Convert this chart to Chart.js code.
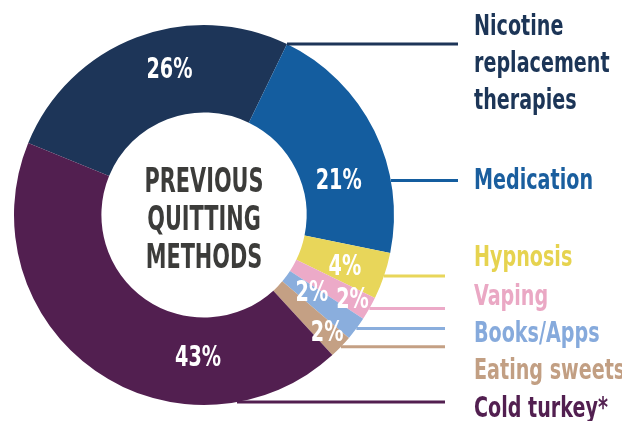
<!DOCTYPE html>
<html>
<head>
<meta charset="utf-8">
<script src="https://cdn.jsdelivr.net/npm/chart.js@4/dist/chart.umd.min.js"></script>
<style>
  html, body { margin: 0; padding: 0; background: #ffffff; }
  #wrap { width: 622px; height: 421px; position: relative; }
</style>
</head>
<body>
<div id="wrap"><canvas id="c" width="622" height="421"></canvas></div>
<script>
// ---- data ----
const categories = ['Nicotine replacement therapies', 'Medication', 'Hypnosis', 'Vaping', 'Books/Apps', 'Eating sweets', 'Cold turkey*'];
const values = [26, 21, 4, 2, 2, 2, 43];
const valueLabels = ['26%', '21%', '4%', '2%', '2%', '2%', '43%'];
const legendLines = [['Nicotine', 'replacement', 'therapies'], ['Medication'], ['Hypnosis'], ['Vaping'], ['Books/Apps'], ['Eating sweets'], ['Cold turkey*']];
const centerTitle = ['PREVIOUS', 'QUITTING', 'METHODS'];

// ---- styles / layout ----
const sliceColors = ['#1d3558', '#145d9f', '#e8d65a', '#ecaac8', '#8aaedd', '#c4a084', '#521f50'];
const textColors  = ['#1c3557', '#1a5e9e', '#e6d34f', '#eaa8c4', '#86aadc', '#c29f83', '#521f50'];
const FONT = '"Liberation Sans Narrow", "Arial Narrow", "DejaVu Sans Condensed", sans-serif';
// placement of the % label inside each slice: [fraction along arc, radius]
const labelPlace = [[0.58, 149], [0.66, 139], [0.6, 150], [0.53, 171], [0.375, 133], [0.46, 170], [0.29, 143]];
// where each connector leaves the ring (fraction along the arc)
const anchorFrac = [1.0, 0.71, 0.5, 0.5, 0.5, 0.5, 0.21];
const lineEndX = [458, 458, 445, 445, 445, 445, 445];
const legendX = 474;
const legendY = [28, 182, 259, 298, 335, 372, 410];
const legendLineGap = 37;

// draw text horizontally condensed so that a reference string has a given width
function condensedScale(ctx, font, refText, refWidth) {
  ctx.font = font;
  return refWidth / ctx.measureText(refText).width;
}
function drawText(ctx, text, x, y, sx, align) {
  ctx.save();
  ctx.translate(x, y);
  ctx.scale(sx, 1);
  ctx.textAlign = align;
  ctx.fillText(text, 0, 0);
  ctx.restore();
}

const overlay = {
  id: 'overlay',
  afterDatasetsDraw(chart) {
    const ctx = chart.ctx;
    const meta = chart.getDatasetMeta(0);
    ctx.save();
    const fLab = 'bold 28px ' + FONT;
    const sLab = condensedScale(ctx, fLab, 'Medication', 119);
    const sPct = condensedScale(ctx, fLab, '26%', 46);
    ctx.textBaseline = 'middle';
    meta.data.forEach((arc, i) => {
      const p = arc.getProps(['x', 'y', 'startAngle', 'endAngle', 'innerRadius', 'outerRadius'], true);
      // connector line
      const a = p.startAngle + anchorFrac[i] * (p.endAngle - p.startAngle);
      const ly = p.y + p.outerRadius * Math.sin(a);
      const lx = p.x + p.outerRadius * Math.cos(a);
      ctx.strokeStyle = sliceColors[i];
      ctx.lineWidth = 3;
      ctx.beginPath();
      ctx.moveTo(lx, ly);
      ctx.lineTo(lineEndX[i], ly);
      ctx.stroke();
      // % label
      const la = p.startAngle + labelPlace[i][0] * (p.endAngle - p.startAngle);
      const r = labelPlace[i][1];
      ctx.fillStyle = '#ffffff';
      ctx.font = fLab;
      drawText(ctx, valueLabels[i], p.x + r * Math.cos(la), p.y + r * Math.sin(la) + 1, sPct, 'center');
      // legend text
      ctx.fillStyle = textColors[i];
      legendLines[i].forEach((t, k) => {
        drawText(ctx, t, legendX, legendY[i] + k * legendLineGap, sLab, 'left');
      });
    });
    // center title
    const c = meta.data[0];
    const fC = 'bold 34px ' + FONT;
    const sC = condensedScale(ctx, fC, 'PREVIOUS', 119);
    ctx.fillStyle = '#3c3c3a';
    ctx.font = fC;
    centerTitle.forEach((t, k) => {
      drawText(ctx, t, c.x, c.y + (k - 1) * 38 + 6, sC, 'center');
    });
    ctx.restore();
  }
};

new Chart(document.getElementById('c'), {
  type: 'doughnut',
  data: {
    labels: categories,
    datasets: [{
      data: values,
      backgroundColor: sliceColors,
      borderWidth: 0,
      hoverOffset: 0
    }]
  },
  options: {
    responsive: false,
    animation: false,
    rotation: -67.7,
    cutout: '54%',
    layout: { padding: { top: 25, bottom: 16, left: 14, right: 228 } },
    plugins: {
      legend: { display: false },
      tooltip: { enabled: false }
    },
    events: []
  },
  plugins: [overlay]
});
</script>
</body>
</html>
